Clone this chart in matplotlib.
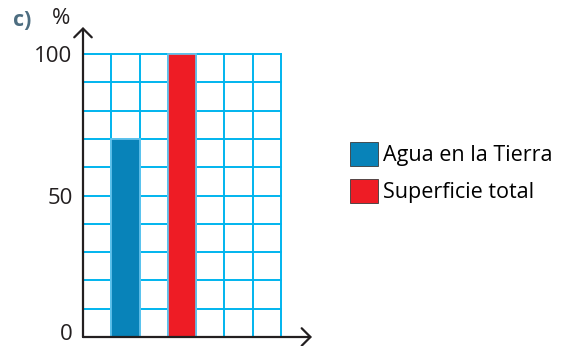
import matplotlib

matplotlib.use("Agg")

import matplotlib.pyplot as plt
import matplotlib.transforms as mtransforms

# data
categories = ["Agua en la Tierra", "Superficie total"]
values = [70, 100]
colors = ["#0883b9", "#ee1c25"]
bar_slots = [1.5, 3.5]
y_ticks = [0, 50, 100]
n_cols = 7

plt.rcParams["font.family"] = ["Open Sans", "DejaVu Sans"]

W, H = 565, 346
fig = plt.figure(figsize=(W / 100, H / 100), dpi=100)
# axes box in pixels: left 83, right 312, top 27, bottom 337
ax = fig.add_axes([83 / W, (H - 337) / H, (312 - 83) / W, (337 - 27) / H])
x_per_px = 7 / (281 - 83)
y_per_px = 100 / (337 - 54)
ax.set_xlim(0, (312 - 83) * x_per_px)
ax.set_ylim(0, (337 - 27) * y_per_px)

grid_c = "#00b4ee"
for x in range(1, n_cols + 1):
    ax.plot([x, x], [0, 100], color=grid_c, lw=1.4, zorder=1)
for y in range(10, 101, 10):
    ax.plot([0, n_cols], [y, y], color=grid_c, lw=1.4, zorder=1)

for xc, v, c, lab in zip(bar_slots, values, colors, categories):
    ax.bar(xc, v, width=1, color=c, edgecolor="#6cc6ee", linewidth=1.2, zorder=2, label=lab)

for s in ax.spines.values():
    s.set_visible(False)

top = ax.get_ylim()[1]
right = ax.get_xlim()[1]
arrow = dict(arrowstyle="->,head_length=0.45,head_width=0.45", color="#231f20", lw=1.6,
             mutation_scale=14, shrinkA=0, shrinkB=0)
ax.annotate("", xy=(0, top), xytext=(0, 0), arrowprops=arrow, annotation_clip=False, zorder=5)
ax.annotate("", xy=(right, 0), xytext=(0, 0), arrowprops=arrow, annotation_clip=False, zorder=5)

ax.set_xticks([])
ax.set_yticks(y_ticks)
ax.set_yticklabels([str(t) for t in y_ticks], fontsize=16, color="#231f20")
ax.tick_params(axis="y", length=0, pad=7.5)
# the "0" sits a little above the baseline
zero = ax.get_yticklabels()[0]
zero.set_transform(zero.get_transform() + mtransforms.ScaledTranslation(0, 5 / 100, fig.dpi_scale_trans))

fig.text(52 / W, 1 - 18 / H, "%", fontsize=16, color="#231f20", va="center", ha="left")
fig.text(13 / W, 1 - 20 / H, "c)", fontsize=15.5, color="#4d6d80", fontweight="bold",
         va="center", ha="left")

leg = ax.legend(loc="upper left", bbox_to_anchor=(350 / W, 1 - 142 / H), bbox_transform=fig.transFigure,
                frameon=False, fontsize=15.5, handlelength=1.32, handleheight=1.32, handletextpad=0.2,
                labelspacing=0.62, borderpad=0, borderaxespad=0)
for h in leg.legend_handles:
    h.set_edgecolor("#3a3a3a")
    h.set_linewidth(0.6)

fig.savefig("out.png", dpi=100)
